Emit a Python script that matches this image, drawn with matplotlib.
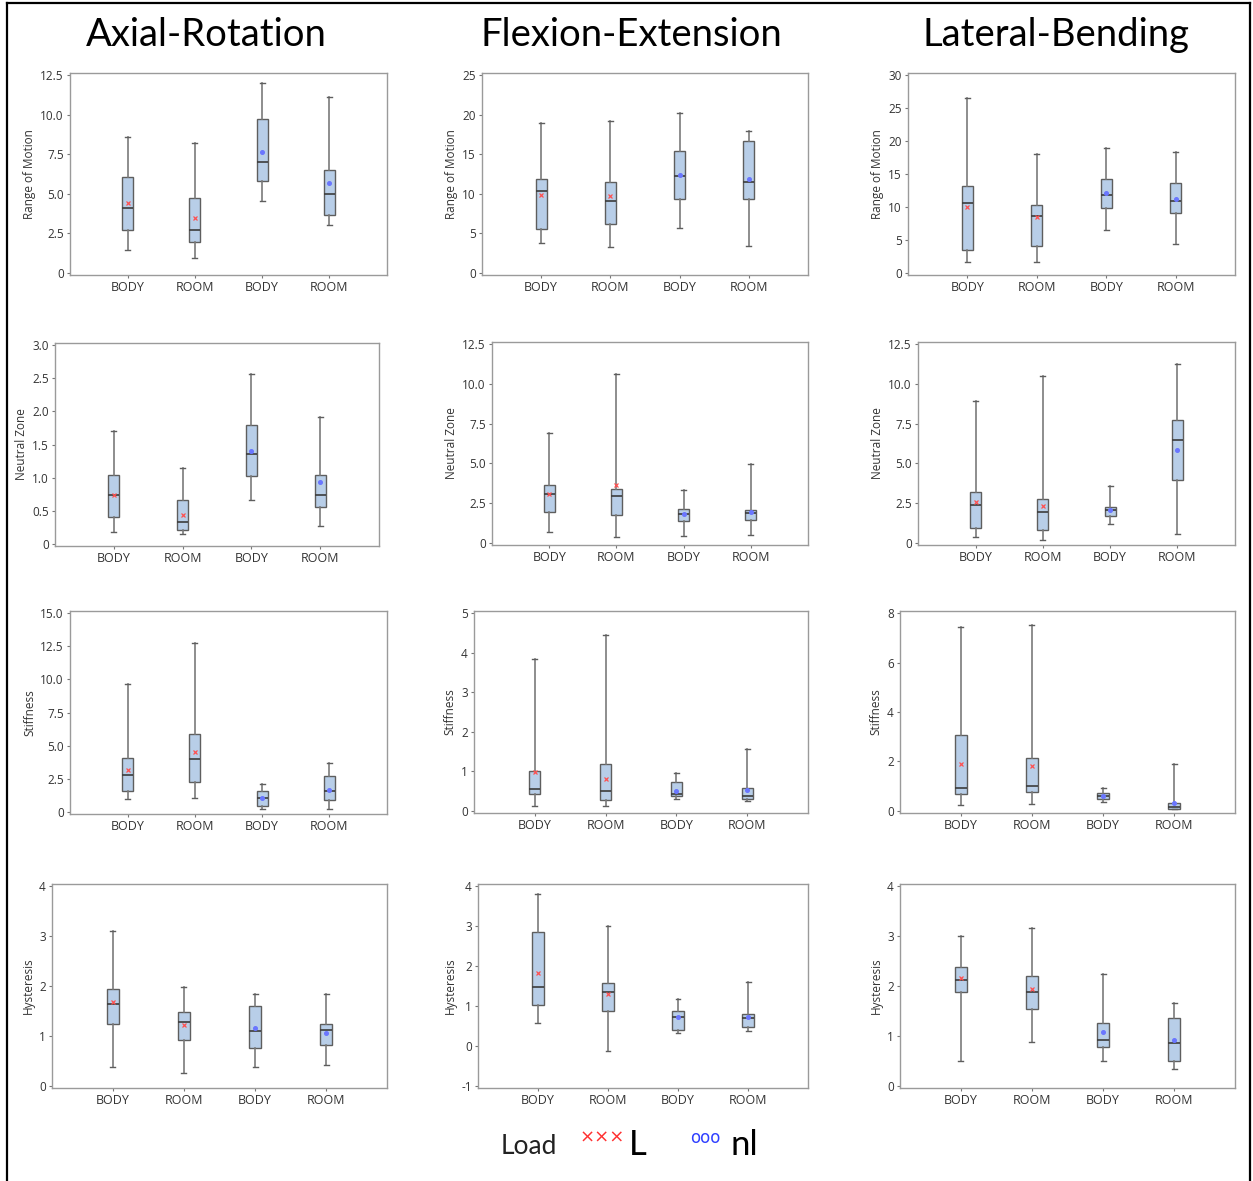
import matplotlib
matplotlib.use("Agg")
import matplotlib.pyplot as plt
from matplotlib.lines import Line2D

# each panel: rows = whisker low, Q1, median, Q3, whisker high, mean
# columns = BODY, ROOM (L), BODY, ROOM (nl)
ar_rom = [[1.43, 0.95, 4.54, 3.03], [2.67, 1.91, 5.80, 3.63], [4.10, 2.73, 7.00, 4.96],
          [6.09, 4.73, 9.73, 6.49], [8.61, 8.19, 12.04, 11.13], [4.41, 3.47, 7.67, 5.65]]
fe_rom = [[3.78, 3.28, 5.63, 3.40], [5.55, 6.18, 9.29, 9.33], [10.30, 9.03, 12.23, 11.47],
          [11.85, 11.43, 15.38, 16.68], [19.00, 19.20, 20.25, 17.90], [9.87, 9.66, 12.31, 11.85]]
lb_rom = [[1.62, 1.62, 6.50, 4.37], [3.50, 4.01, 9.90, 9.04], [10.56, 8.68, 11.88, 10.96],
          [13.20, 10.25, 14.20, 13.70], [26.50, 18.07, 18.93, 18.32], [10.00, 8.53, 12.18, 11.22]]

ar_nz = [[0.17, 0.15, 0.66, 0.26], [0.41, 0.20, 1.03, 0.56], [0.74, 0.32, 1.36, 0.74],
         [1.04, 0.66, 1.80, 1.04], [1.71, 1.14, 2.56, 1.92], [0.73, 0.44, 1.40, 0.93]]
fe_nz = [[0.65, 0.34, 0.44, 0.51], [1.90, 1.75, 1.35, 1.43], [3.04, 2.97, 1.79, 1.88],
         [3.63, 3.41, 2.15, 2.07], [6.91, 10.65, 3.29, 4.95], [3.04, 3.63, 1.79, 1.90]]
lb_nz = [[0.34, 0.15, 1.18, 0.53], [0.91, 0.82, 1.69, 3.93], [2.36, 1.90, 2.05, 6.44],
         [3.19, 2.72, 2.26, 7.75], [8.95, 10.49, 3.57, 11.25], [2.55, 2.30, 2.05, 5.87]]

ar_st = [[0.92, 1.02, 0.23, 0.18], [1.58, 2.24, 0.43, 0.89], [2.76, 3.95, 1.05, 1.53],
         [4.03, 5.89, 1.53, 2.70], [9.64, 12.76, 2.09, 3.65], [3.14, 4.54, 1.05, 1.66]]
fe_st = [[0.13, 0.13, 0.30, 0.25], [0.41, 0.28, 0.36, 0.30], [0.54, 0.51, 0.43, 0.37],
         [1.00, 1.18, 0.73, 0.57], [3.84, 4.45, 0.95, 1.56], [0.98, 0.81, 0.51, 0.53]]
lb_st = [[0.24, 0.27, 0.34, 0.05], [0.67, 0.75, 0.48, 0.08], [0.90, 1.00, 0.59, 0.16],
         [3.08, 2.13, 0.70, 0.30], [7.43, 7.54, 0.93, 1.91], [1.89, 1.83, 0.59, 0.32]]

ar_hy = [[0.38, 0.26, 0.37, 0.42], [1.23, 0.92, 0.76, 0.81], [1.63, 1.27, 1.09, 1.12],
         [1.94, 1.47, 1.60, 1.23], [3.10, 1.98, 1.83, 1.83], [1.67, 1.22, 1.15, 1.05]]
fe_hy = [[0.58, -0.12, 0.32, 0.36], [1.02, 0.87, 0.39, 0.46], [1.47, 1.36, 0.72, 0.69],
         [2.86, 1.57, 0.88, 0.80], [3.80, 3.00, 1.17, 1.60], [1.82, 1.31, 0.72, 0.72]]
lb_hy = [[0.49, 0.87, 0.50, 0.33], [1.88, 1.53, 0.77, 0.49], [2.13, 1.87, 0.91, 0.85],
         [2.39, 2.21, 1.26, 1.36], [3.00, 3.16, 2.25, 1.65], [2.16, 1.93, 1.07, 0.92]]

groups = ["BODY", "ROOM", "BODY", "ROOM"]
titles = ["Axial-Rotation", "Flexion-Extension", "Lateral-Bending"]
ylabels = ["Range of Motion", "Neutral Zone", "Stiffness", "Hysteresis"]

panels = [[ar_rom, fe_rom, lb_rom], [ar_nz, fe_nz, lb_nz],
          [ar_st, fe_st, lb_st], [ar_hy, fe_hy, lb_hy]]

yticks = [[[0, 2.5, 5, 7.5, 10, 12.5], [0, 5, 10, 15, 20, 25], [0, 5, 10, 15, 20, 25, 30]],
          [[0, 0.5, 1, 1.5, 2, 2.5, 3], [0, 2.5, 5, 7.5, 10, 12.5], [0, 2.5, 5, 7.5, 10, 12.5]],
          [[0, 2.5, 5, 7.5, 10, 12.5, 15], [0, 1, 2, 3, 4, 5], [0, 2, 4, 6, 8]],
          [[0, 1, 2, 3, 4], [-1, 0, 1, 2, 3, 4], [0, 1, 2, 3, 4]]]

# axes frames in pixels: left, top, right, bottom
frames = [[(70, 73, 387, 275), (482, 73, 808, 275), (908, 73, 1235, 275)],
          [(55, 343, 379, 546), (492, 342, 808, 545), (918, 342, 1235, 545)],
          [(70, 611, 387, 814), (474, 611, 808, 813), (900, 611, 1235, 813)],
          [(52, 884, 387, 1088), (478, 884, 808, 1088), (900, 884, 1235, 1088)]]

W, H = 1253, 1181
fig = plt.figure(figsize=(W / 100, H / 100), dpi=100)
fig.patch.set_facecolor("white")

font = "Open Sans"
tick_col = "#333333"
spine_col = "#9a9a9a"


def fmt(v, step):
    if v == 0:
        return "0"
    if step % 1 != 0:
        return "%.1f" % v
    return "%d" % v


for r in range(4):
    for c in range(3):
        l, t, rr, b = frames[r][c]
        ax = fig.add_axes([l / W, 1 - b / H, (rr - l) / W, (b - t) / H])
        d = panels[r][c]
        stats = []
        for i in range(4):
            stats.append(dict(whislo=d[0][i], q1=d[1][i], med=d[2][i], q3=d[3][i],
                              whishi=d[4][i], mean=d[5][i], fliers=[]))
        ax.bxp(stats, positions=[1, 2, 3, 4], widths=0.16, capwidths=0.07,
               patch_artist=True, showfliers=False, showmeans=False,
               boxprops=dict(facecolor="#b8cee8", edgecolor="#5e5e5e", linewidth=1.0),
               whiskerprops=dict(color="#7a7a7a", linewidth=1.2),
               capprops=dict(color="#5e5e5e", linewidth=1.0),
               medianprops=dict(color="#3c3c3c", linewidth=1.2))
        means = d[5]
        ax.plot([1, 2], means[:2], linestyle="none", marker="x", ms=2.2, mew=0.9,
                color="#ff5050", zorder=5)
        ax.plot([3, 4], means[2:], linestyle="none", marker="o", ms=2.6,
                color="#6a76ff", zorder=5)

        ticks = yticks[r][c]
        step = ticks[1] - ticks[0]
        span = ticks[-1] - ticks[0]
        ax.set_ylim(ticks[0] - span * 0.012, ticks[-1] + span * 0.012)
        ax.set_yticks(ticks)
        ax.set_yticklabels([fmt(v, step) for v in ticks], fontsize=8.5,
                           color=tick_col, family=font)
        ax.set_xlim(0.145, 4.855)
        ax.set_xticks([1, 2, 3, 4])
        ax.set_xticklabels(groups, fontsize=9, color=tick_col, family=font)
        ax.tick_params(axis="both", length=2.5, width=0.8, color="#777777", pad=2)
        ax.set_ylabel(ylabels[r], fontsize=8.5, color=tick_col, family=font, labelpad=3)
        for s in ax.spines.values():
            s.set_color(spine_col)
            s.set_linewidth(1.0)

title_x = [206, 631, 1056]
for c in range(3):
    fig.text(title_x[c] / W, 1 - 35 / H, titles[c], ha="center", va="center",
             fontsize=27.5, family="Lato", color="black")

# legend along the bottom
fig.text(529 / W, 1 - 1147 / H, "Load", ha="center", va="center", fontsize=19,
         family="Lato", color="#222222")
fig.text(602 / W, 1 - 1138 / H, "\u00d7\u00d7\u00d7", ha="center", va="center",
         fontsize=13, family="DejaVu Sans", color="#ff3030")
fig.text(638 / W, 1 - 1145 / H, "L", ha="center", va="center", fontsize=25,
         family="Lato", color="black")
fig.text(705 / W, 1 - 1138 / H, "ooo", ha="center", va="center", fontsize=12,
         family="DejaVu Sans", color="#3040ff")
fig.text(744 / W, 1 - 1145 / H, "nl", ha="center", va="center", fontsize=25,
         family="Lato", color="black")

# outer frame
lw = 1.6
fig.add_artist(Line2D([7 / W, 7 / W], [0, 1 - 3 / H], color="black", lw=lw))
fig.add_artist(Line2D([7 / W, 1250 / W], [1 - 3 / H, 1 - 3 / H], color="black", lw=lw))
fig.add_artist(Line2D([1250 / W, 1250 / W], [0, 1 - 3 / H], color="black", lw=lw))

fig.savefig("out.png", dpi=100)
